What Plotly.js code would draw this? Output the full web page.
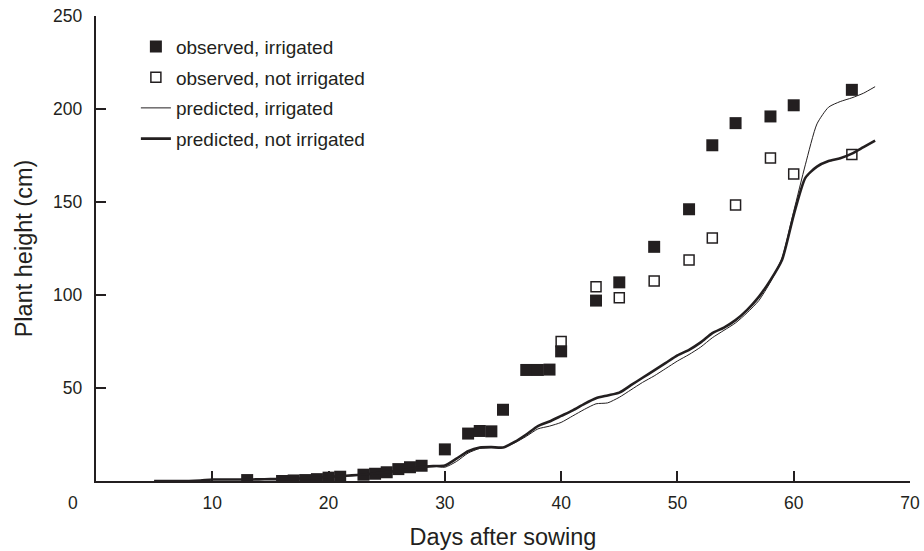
<!DOCTYPE html>
<html>
<head>
<meta charset="utf-8">
<script src="https://cdn.plot.ly/plotly-3.0.1.min.js"></script>
<style>html,body{margin:0;padding:0;background:#fff;}#chart{width:924px;height:551px;}</style>
</head>
<body>
<div id="chart"></div>
<script>
// Observed, irrigated
const obsIrrDays = [13,16,17,18,19,20,21,23,24,25,26,27,28,30,32,33,34,35,37,38,39,40,43,45,48,51,53,55,58,60,65];
const obsIrrHeight = [0.5,0,0.3,0.5,1,1.8,2.3,3.4,3.9,4.7,6.4,7.4,8.2,17,25.5,26.9,26.7,38.3,59.7,59.7,59.9,69.7,97,106.8,125.9,146.1,180.5,192.4,196,202,210.3];
// Observed, not irrigated
const obsNotDays = [40,43,45,48,51,53,55,58,60,65];
const obsNotHeight = [75,104.4,98.5,107.5,118.8,130.7,148.4,173.6,165,175.5];
// Predicted (model) curves
const predDays = [5,6,7,8,9,10,11,12,13,14,15,16,17,18,19,20,21,22,23,24,25,26,27,28,29,30,31,32,33,34,35,36,37,38,39,40,41,42,43,44,45,46,47,48,49,50,51,52,53,54,55,56,57,58,59,60,61,62,63,64,65,66,67];
const predIrr = [0,0,0,0,0.3,0.8,0.8,0.8,0.8,0.9,1,1,1.2,1.5,1.8,2.2,2.6,3,3.5,4,4.8,5.5,6.5,7.5,8,7.4,10.5,15,17.5,18,18,20.5,24,28,29.5,31.5,35,38.5,41.5,42,45,49,53,56.5,60.5,64.5,68,72,77,81,85,90.5,97,107,120,145,170,192,201,204,206,208.5,212];
const predNot = [0,0,0,0,0.3,0.8,0.8,0.8,0.8,0.9,1,1,1.2,1.5,1.8,2.2,2.6,3,3.5,4,4.8,5.5,6.5,7.5,8,8.3,12,16,18,18.2,18,21,25,29.5,32,35,38,41.5,44.5,46,47.5,51.5,55.5,59.5,63.5,67.5,70.5,74.5,79.5,82.5,86.5,92,99,108,119,143,163,169,172,173.5,176,179.5,183];
// Axis ticks
const xTicks = [10,20,30,40,50,60,70];
const yTicks = [50,100,150,200,250];
const seriesNames = ['observed, irrigated','observed, not irrigated','predicted, irrigated','predicted, not irrigated'];

const ink = '#231f20';
const font = 'Liberation Sans, Arial, Helvetica, sans-serif';

const data = [
  {x: obsIrrDays, y: obsIrrHeight, name: seriesNames[0], type: 'scatter', mode: 'markers',
   marker: {symbol: 'square', size: 12, color: ink, line: {width: 0}}, legendgroup: 'a'},
  {x: obsNotDays, y: obsNotHeight, name: seriesNames[1], type: 'scatter', mode: 'markers',
   marker: {symbol: 'square-open', size: 10, color: ink, line: {width: 1.5, color: ink}}, legendgroup: 'b'},
  {x: predDays, y: predIrr, name: seriesNames[2], type: 'scatter', mode: 'lines',
   line: {color: ink, width: 1, shape: 'spline', smoothing: 0.6}, legendgroup: 'c'},
  {x: predDays, y: predNot, name: seriesNames[3], type: 'scatter', mode: 'lines',
   line: {color: ink, width: 2.6, shape: 'spline', smoothing: 0.6}, legendgroup: 'd'}
];

const layout = {
  width: 924, height: 551,
  margin: {l: 96, r: 14, t: 16, b: 70},
  paper_bgcolor: '#fff', plot_bgcolor: '#fff',
  font: {family: font, color: ink, size: 18},
  showlegend: true,
  legend: {x: 0.049, y: 0.975, xanchor: 'left', yanchor: 'top', bgcolor: 'rgba(0,0,0,0)',
           font: {family: font, size: 19, color: ink}, traceorder: 'grouped', tracegroupgap: 3},
  xaxis: {range: [0, 70], showgrid: false, zeroline: false, showline: true, linecolor: ink, linewidth: 2.2,
          ticks: 'inside', ticklen: 10, tickwidth: 2, tickcolor: ink, tickvals: xTicks,
          ticklabelstandoff: 5, tickfont: {size: 17.5, family: font, color: ink},
          title: {text: 'Days after sowing', font: {size: 23.5, family: font, color: ink}, standoff: 16}},
  yaxis: {range: [0, 250], showgrid: false, zeroline: false, showline: true, linecolor: ink, linewidth: 2.2,
          ticks: 'inside', ticklen: 10, tickwidth: 2, tickcolor: ink, tickvals: yTicks,
          ticklabelstandoff: 8, tickfont: {size: 17.5, family: font, color: ink},
          title: {text: 'Plant height (cm)', font: {size: 23.5, family: font, color: ink}, standoff: 14}},
  annotations: [{text: '0', xref: 'paper', yref: 'paper', x: -0.0285, y: -0.047, xanchor: 'center', yanchor: 'middle',
                 showarrow: false, font: {size: 17.5, family: font, color: ink}}]
};

Plotly.newPlot('chart', data, layout, {displayModeBar: false, staticPlot: true});
</script>
</body>
</html>
